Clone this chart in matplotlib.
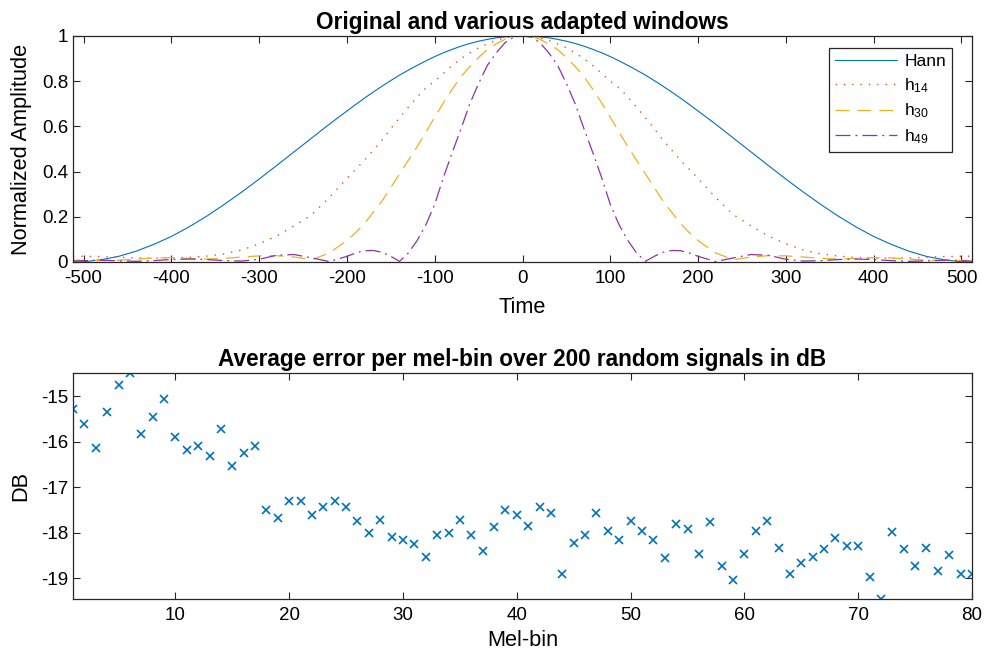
import numpy as np
import matplotlib
matplotlib.use('Agg')
import matplotlib.pyplot as plt

plt.rcParams['font.family'] = ['Liberation Sans', 'DejaVu Sans']
plt.rcParams['axes.unicode_minus'] = False
plt.rcParams['mathtext.fontset'] = 'custom'
plt.rcParams['mathtext.rm'] = 'Liberation Sans'
plt.rcParams['mathtext.it'] = 'Liberation Sans'

# half-window time grid (windows are symmetric around 0)
t_half = [0, 10, 20, 30, 40, 50, 60, 70, 80, 90, 100, 110, 120, 130, 140, 150,
          160, 170, 180, 190, 200, 220, 240, 260, 280, 300, 320, 340, 360, 380,
          400, 420, 440, 460, 480, 500, 512]

hann = [1.0, 0.999, 0.996, 0.992, 0.985, 0.977, 0.967, 0.955, 0.941, 0.926,
        0.909, 0.890, 0.870, 0.849, 0.827, 0.803, 0.778, 0.752, 0.725, 0.697,
        0.668, 0.610, 0.549, 0.488, 0.427, 0.367, 0.309, 0.254, 0.202, 0.155,
        0.113, 0.078, 0.048, 0.025, 0.010, 0.001, 0.0]

h14 = [1.0, 0.998, 0.992, 0.980, 0.965, 0.948, 0.925, 0.900, 0.870, 0.835,
       0.800, 0.770, 0.730, 0.685, 0.638, 0.590, 0.540, 0.495, 0.450, 0.410,
       0.370, 0.285, 0.210, 0.160, 0.115, 0.080, 0.053, 0.036, 0.026, 0.020,
       0.018, 0.017, 0.018, 0.021, 0.024, 0.025, 0.026]

h30 = [1.0, 0.997, 0.985, 0.965, 0.940, 0.905, 0.865, 0.820, 0.765, 0.705,
       0.640, 0.575, 0.510, 0.450, 0.390, 0.330, 0.270, 0.220, 0.170, 0.130,
       0.095, 0.040, 0.010, 0.022, 0.028, 0.027, 0.022, 0.016, 0.013, 0.016,
       0.019, 0.018, 0.013, 0.008, 0.006, 0.007, 0.008]

h49 = [1.0, 0.995, 0.970, 0.925, 0.870, 0.790, 0.700, 0.590, 0.485, 0.375,
       0.255, 0.165, 0.095, 0.040, 0.003, 0.025, 0.043, 0.051, 0.050, 0.040,
       0.025, 0.002, 0.018, 0.033, 0.030, 0.012, 0.004, 0.006, 0.011, 0.013,
       0.011, 0.006, 0.003, 0.005, 0.008, 0.006, 0.004]

mel_err = [-15.27, -15.61, -16.13, -15.34, -14.76, -14.49, -15.82, -15.45, -15.07, -15.89,
           -16.19, -16.10, -16.31, -15.72, -16.54, -16.24, -16.10, -17.49, -17.68, -17.29,
           -17.29, -17.60, -17.43, -17.30, -17.43, -17.74, -18.01, -17.71, -18.09, -18.15,
           -18.25, -18.52, -18.05, -18.01, -17.71, -18.05, -18.39, -17.87, -17.50, -17.60,
           -17.84, -17.43, -17.57, -18.90, -18.22, -18.05, -17.57, -17.95, -18.15, -17.74,
           -17.95, -18.15, -18.56, -17.81, -17.91, -18.46, -17.76, -18.73, -19.04, -18.46,
           -17.95, -17.74, -18.32, -18.90, -18.66, -18.52, -18.36, -18.12, -18.28, -18.28,
           -18.97, -19.45, -17.98, -18.36, -18.73, -18.32, -18.84, -18.49, -18.90, -18.90]
mel_bins = np.arange(1, len(mel_err) + 1)


def full(v):
    v = np.asarray(v, dtype=float)
    return np.concatenate([v[::-1], v[1:]])


th = np.asarray(t_half, dtype=float)
t = np.concatenate([-th[::-1], th[1:]])

fig = plt.figure(figsize=(9.85, 6.5), dpi=100)
ax1 = fig.add_axes([73 / 985, 1 - 262 / 650, 899 / 985, 226 / 650])
ax2 = fig.add_axes([73 / 985, 1 - 599 / 650, 899 / 985, 226 / 650])

ax1.plot(t, full(hann), color='#0072BD', lw=0.8, label='Hann')
ax1.plot(t, full(h14), color='#E0561A', lw=1.0, ls=(0, (1, 5)), label='h$_{14}$')
ax1.plot(t, full(h30), color='#EDB120', lw=0.9, ls=(0, (11, 6.5)), label='h$_{30}$')
ax1.plot(t, full(h49), color='#8B35A0', lw=0.9, ls=(0, (12, 4, 1.5, 4)), label='h$_{49}$')
ax1.set_xlim(-512, 512)
ax1.set_ylim(0, 1)
ax1.set_xticks(np.arange(-500, 501, 100))
ax1.set_yticks([0, 0.2, 0.4, 0.6, 0.8, 1])
ax1.set_yticklabels(['0', '0.2', '0.4', '0.6', '0.8', '1'])
ax1.set_xlabel('Time', fontsize=15.7, labelpad=7)
ax1.set_ylabel('Normalized Amplitude', fontsize=15.7, labelpad=7)
ax1.set_title('Original and various adapted windows', fontsize=16.3, fontweight='bold', pad=5)
leg = ax1.legend(loc='upper right', bbox_to_anchor=(0.978, 0.947), fontsize=12.5,
                 frameon=True, fancybox=False, edgecolor='#262626', framealpha=1,
                 handlelength=3.6, handletextpad=0.4, borderaxespad=0,
                 labelspacing=0.4, borderpad=0.35)
leg.get_frame().set_linewidth(0.9)

ax2.plot(mel_bins, mel_err, ls='none', marker='x', color='#0072BD', ms=6, mew=1.2)
ax2.set_xlim(1, 80)
ax2.set_ylim(min(mel_err), max(mel_err))
ax2.set_xticks(np.arange(10, 81, 10))
ax2.set_yticks([-19, -18, -17, -16, -15])
ax2.set_xlabel('Mel-bin', fontsize=15.7, labelpad=4)
ax2.set_ylabel('DB', fontsize=15.7, labelpad=7)
ax2.set_title('Average error per mel-bin over 200 random signals in dB', fontsize=16.3,
              fontweight='bold', pad=5)

for ax in (ax1, ax2):
    ax.tick_params(direction='in', top=True, right=True, length=5, width=0.8,
                   labelsize=13.5, color='#262626')
    ax.tick_params(axis='x', pad=6)
    for s in ax.spines.values():
        s.set_color('#262626')
        s.set_linewidth(0.9)

fig.savefig('out.png', dpi=100)
